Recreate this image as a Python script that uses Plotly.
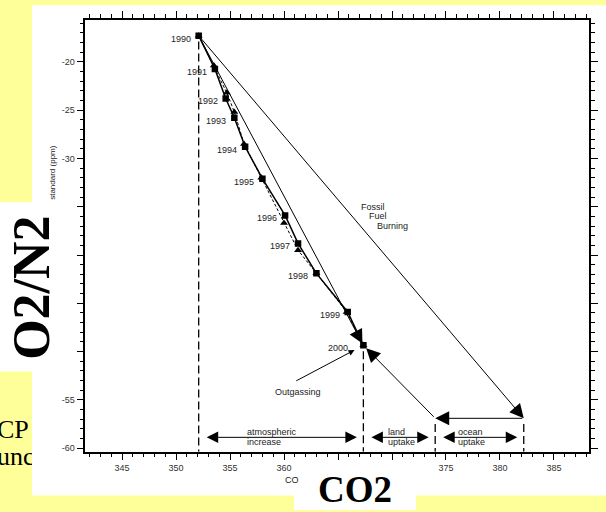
import plotly.graph_objects as go

W, H = 606, 512
YELLOW = "#FFFF99"
SANS = "Liberation Sans, Arial, sans-serif"
SERIF = "Liberation Serif, Times New Roman, serif"

# Annual means, 1990-2000
years = list(range(1990, 2001))
co2_sq = [352.1, 353.6, 354.6, 355.4, 356.4, 358.0, 360.1, 361.3, 363.0, 365.9, 367.35]
o2_sq = [-17.3, -20.75, -23.8, -25.8, -28.8, -32.1, -35.9, -38.8, -41.9, -45.9, -49.35]
co2_tri = [352.1, 353.5, 354.7, 355.4, 356.3, 357.9, 360.0, 361.3, 363.0, 365.8, 367.35]
o2_tri = [-17.3, -20.4, -23.2, -25.2, -28.5, -32.0, -36.7, -39.5, -41.9, -45.9, -49.35]

# Budget vector end points
ff_co2_end = 382.2      # after fossil fuel burning
ff_o2_end = -56.9
ocean_co2_end = 374.0   # after ocean uptake

x_ticks = [345, 350, 355, 360, 365, 370, 375, 380, 385]
x_tick_text = ["345", "350", "355", "360", "", "", "375", "380", "385"]
y_ticks = [-60, -55, -50, -45, -40, -35, -30, -25, -20]
y_tick_text = ["-60", "-55", "", "", "", "", "-30", "-25", "-20"]

X_RANGE = [341.6, 388.27]
Y_RANGE = [-60.36, -15.67]


def px(x):
    return x / W


def py(y):
    return 1 - y / H


fig = go.Figure()

# Series traces
fig.add_trace(go.Scatter(
    x=co2_tri, y=o2_tri, mode="lines+markers",
    line=dict(color="black", width=1, dash="3px,2px"),
    marker=dict(symbol="triangle-up", size=7, color="black"),
    hoverinfo="skip", xaxis="x", yaxis="y"))
fig.add_trace(go.Scatter(
    x=co2_sq, y=o2_sq, mode="lines+markers",
    line=dict(color="black", width=1.5),
    marker=dict(symbol="square", size=6.5, color="black"),
    hoverinfo="skip", xaxis="x", yaxis="y"))

# Dashed reference verticals down to the x axis
verticals = [(co2_sq[0], o2_sq[0]), (co2_sq[-1], o2_sq[-1]),
             (ocean_co2_end, ff_o2_end), (ff_co2_end, ff_o2_end)]
for vx, vy in verticals:
    fig.add_trace(go.Scatter(
        x=[vx, vx], y=[vy - 0.6, Y_RANGE[0]], mode="lines",
        line=dict(color="black", width=1.3, dash="8px,4px"),
        hoverinfo="skip", xaxis="x", yaxis="y"))

# Slide body text at the lower left, clipped by the white panel
fig.add_trace(go.Scatter(
    x=[-3, -3], y=[78.5, 51.5], mode="text", text=["CP", "unc"],
    textposition="middle right", cliponaxis=True,
    textfont=dict(family=SERIF, size=26, color="black"),
    hoverinfo="skip", xaxis="x2", yaxis="y2"))

annotations = []


def arrow(x0, y0, x1, y1, size=2.8, side="end", standoff=0, width=1):
    return dict(x=x1, y=y1, ax=x0, ay=y0, xref="x", yref="y",
                axref="x", ayref="y", text="", showarrow=True,
                arrowhead=2, arrowsize=size, arrowwidth=width,
                arrowcolor="black", arrowside=side, standoff=standoff)


# Budget arrows
annotations.append(arrow(co2_sq[0], o2_sq[0], ff_co2_end, ff_o2_end))
annotations.append(arrow(ff_co2_end, ff_o2_end, ocean_co2_end, ff_o2_end))
annotations.append(arrow(ocean_co2_end, ff_o2_end, co2_sq[-1], o2_sq[-1], standoff=4))
annotations.append(arrow(co2_sq[0], o2_sq[0], co2_sq[-1], o2_sq[-1], standoff=2))
annotations.append(arrow(361.0, -53.1, co2_sq[-1], o2_sq[-1], size=1.2, standoff=10))

# Partition arrows along the bottom
row_y = -58.87
pad = 0.6
segments = [(co2_sq[0], co2_sq[-1]), (co2_sq[-1], ocean_co2_end), (ocean_co2_end, ff_co2_end)]
for a, b in segments:
    annotations.append(arrow(a + pad, row_y, b - pad, row_y, size=2.3, side="end+start"))

small = dict(family=SANS, size=9, color="#222")

# Year labels
for yr, xv, yv in zip(years, co2_sq, o2_sq):
    annotations.append(dict(
        x=xv, y=yv, xref="x", yref="y", text=str(yr), showarrow=False,
        xanchor="right", yanchor="middle",
        xshift=-13 if yr == 2000 else -6, yshift=-3, font=small))


# Labels inside the plot
def label(x, y, text, anchor="left"):
    annotations.append(dict(x=x, y=y, xref="x", yref="y", text=text,
                            showarrow=False, xanchor=anchor, yanchor="middle",
                            font=small))


label(366.94, -35.02, "Fossil")
label(367.66, -35.95, "Fuel")
label(368.43, -37.04, "Burning")
label(361.3, -54.16, "Outgassing", "center")
label(356.4, -58.35, "atmospheric")
label(356.4, -59.35, "increase")
label(369.44, -58.35, "land")
label(369.44, -59.35, "uptake")
label(375.93, -58.35, "ocean")
label(375.93, -59.35, "uptake")

# Axis titles and slide headings
annotations.append(dict(x=px(53), y=py(173.5), xref="paper", yref="paper",
                        text="standard (ppm)", showarrow=False, textangle=-90,
                        xanchor="center", yanchor="middle",
                        font=dict(family=SANS, size=8, color="#222")))
annotations.append(dict(x=px(283), y=py(482), xref="paper", yref="paper",
                        text="CO", showarrow=False, xanchor="left", yanchor="middle",
                        font=small))
annotations.append(dict(x=px(32), y=py(289), xref="paper", yref="paper",
                        text="<b>O2/N2</b>", showarrow=False, textangle=-90,
                        xanchor="center", yanchor="middle",
                        font=dict(family=SERIF, size=52, color="black")))
annotations.append(dict(x=px(355), y=py(491), xref="paper", yref="paper",
                        text="<b>CO2</b>", showarrow=False,
                        xanchor="center", yanchor="middle",
                        font=dict(family=SERIF, size=37, color="black")))

# White slide panels
shapes = [
    dict(type="rect", xref="paper", yref="paper", x0=px(32), x1=1,
         y0=py(497.5), y1=py(5.3), fillcolor="white", line=dict(width=0), layer="below"),
    dict(type="rect", xref="paper", yref="paper", x0=0, x1=px(33),
         y0=py(373), y1=py(203), fillcolor="white", line=dict(width=0), layer="below"),
    dict(type="rect", xref="paper", yref="paper", x0=px(294), x1=px(416),
         y0=0, y1=py(497), fillcolor="white", line=dict(width=0), layer="below"),
]

axis_common = dict(
    showline=True, linecolor="black", linewidth=1.5, mirror="allticks",
    ticks="outside", ticklen=7, tickwidth=1, tickcolor="black",
    showgrid=False, zeroline=False, fixedrange=True,
    tickfont=dict(family=SANS, size=9, color="#333"),
)

fig.update_layout(
    width=W, height=H,
    margin=dict(l=0, r=0, t=0, b=0, pad=0),
    paper_bgcolor=YELLOW, plot_bgcolor="rgba(0,0,0,0)",
    showlegend=False,
    xaxis=dict(domain=[px(85.3), px(589.3)], range=X_RANGE,
               tickmode="array", tickvals=x_ticks, ticktext=x_tick_text,
               minor=dict(tickmode="linear", tick0=340, dtick=1, ticklen=4,
                          ticks="outside", tickcolor="black", tickwidth=1),
               **axis_common),
    yaxis=dict(domain=[py(453.5), py(20)], range=Y_RANGE,
               tickmode="array", tickvals=y_ticks, ticktext=y_tick_text,
               minor=dict(tickmode="linear", tick0=-60, dtick=1, ticklen=4,
                          ticks="outside", tickcolor="black", tickwidth=1),
               **axis_common),
    xaxis2=dict(domain=[0, px(32)], range=[0, 32], visible=False, fixedrange=True),
    yaxis2=dict(domain=[0, py(373)], range=[0, 139], visible=False, fixedrange=True,
                anchor="x2"),
    annotations=annotations,
    shapes=shapes,
)
fig.data[-1].update(xaxis="x2", yaxis="y2")

fig.write_html("out.html")
